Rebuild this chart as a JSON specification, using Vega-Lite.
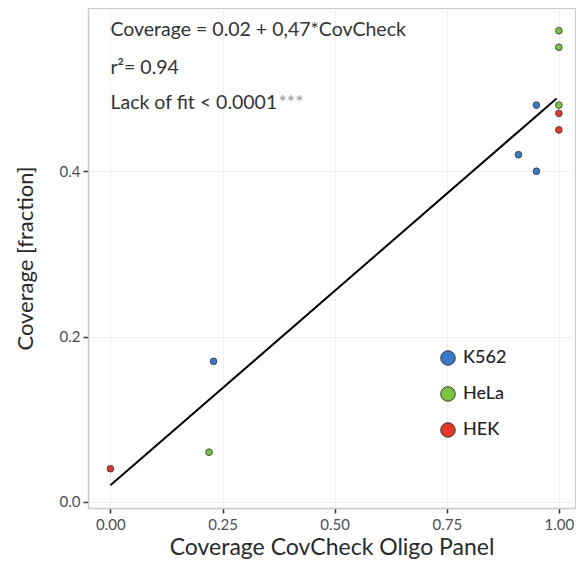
{
  "$schema": "https://vega.github.io/schema/vega-lite/v6.json",
  "width": 487,
  "height": 500,
  "autosize": {"type": "none"},
  "padding": {"left": 88, "top": 8, "right": 1, "bottom": 61},
  "background": "white",
  "config": {
    "font": "Lato",
    "view": {"stroke": "#c8c8c8", "strokeWidth": 1}
  },
  "datasets": {
    "points": [
      {"cov": 0.23, "frac": 0.17, "cell": "K562"},
      {"cov": 0.91, "frac": 0.42, "cell": "K562"},
      {"cov": 0.95, "frac": 0.40, "cell": "K562"},
      {"cov": 0.95, "frac": 0.48, "cell": "K562"},
      {"cov": 0.22, "frac": 0.06, "cell": "HeLa"},
      {"cov": 1.0, "frac": 0.57, "cell": "HeLa"},
      {"cov": 1.0, "frac": 0.55, "cell": "HeLa"},
      {"cov": 1.0, "frac": 0.48, "cell": "HeLa"},
      {"cov": 0.0, "frac": 0.04, "cell": "HEK"},
      {"cov": 1.0, "frac": 0.47, "cell": "HEK"},
      {"cov": 1.0, "frac": 0.45, "cell": "HEK"}
    ],
    "fit": [
      {"cov": 0.0, "frac": 0.02},
      {"cov": 0.995, "frac": 0.488}
    ],
    "notes": [
      {"cov": 0.0, "frac": 0.571, "label": "Coverage = 0.02 + 0,47*CovCheck", "c": "#333333"},
      {"cov": 0.0, "frac": 0.525, "label": "r²= 0.94", "c": "#333333"},
      {"cov": 0.0, "frac": 0.482, "label": "Lack of fit < 0.0001", "c": "#333333"},
      {"cov": 0.375, "frac": 0.482, "label": "***", "c": "#9a9a9a"}
    ]
  },
  "layer": [
    {
      "data": {"name": "fit"},
      "mark": {"type": "line", "color": "black", "strokeWidth": 2},
      "encoding": {
        "x": {
          "field": "cov", "type": "quantitative",
          "scale": {"domain": [-0.05, 1.036], "nice": false, "zero": false},
          "axis": {
            "title": "Coverage CovCheck Oligo Panel",
            "values": [0, 0.25, 0.5, 0.75, 1.0],
            "format": ".2f",
            "labelFontSize": 15, "labelColor": "#4d4d4d", "labelPadding": 4,
            "titleFontSize": 23, "titleColor": "#2a2a2a", "titleFontWeight": "normal", "titlePadding": 4,
            "tickColor": "#333333", "tickSize": 5, "tickWidth": 1.5,
            "domainColor": "#c8c8c8", "domainWidth": 1.5,
            "gridColor": "#f0f0f0", "gridWidth": 1.2
          }
        },
        "y": {
          "field": "frac", "type": "quantitative",
          "scale": {"domain": [-0.0075, 0.5975], "nice": false, "zero": false},
          "axis": {
            "title": "Coverage [fraction]",
            "values": [0, 0.2, 0.4],
            "format": ".1f",
            "labelFontSize": 15, "labelColor": "#4d4d4d", "labelPadding": 3,
            "titleFontSize": 22, "titleColor": "#2a2a2a", "titleFontWeight": "normal", "titlePadding": 22,
            "tickColor": "#333333", "tickSize": 5, "tickWidth": 1.5,
            "domainColor": "#c8c8c8", "domainWidth": 1.5,
            "gridColor": "#f0f0f0", "gridWidth": 1.2
          }
        }
      }
    },
    {
      "data": {"name": "points"},
      "mark": {"type": "point", "filled": true, "stroke": "#333333", "strokeWidth": 0.8, "opacity": 1},
      "encoding": {
        "x": {"field": "cov", "type": "quantitative"},
        "y": {"field": "frac", "type": "quantitative"},
        "size": {"value": 45},
        "color": {
          "field": "cell", "type": "nominal",
          "scale": {"domain": ["K562", "HeLa", "HEK"], "range": ["#3a78c9", "#7dc242", "#e2372a"]},
          "legend": {
            "title": null,
            "orient": "none",
            "legendX": 351,
            "legendY": 341,
            "symbolSize": 210,
            "symbolStrokeColor": "#333333",
            "symbolStrokeWidth": 1,
            "symbolType": "circle",
            "labelFontSize": 18,
            "labelFontWeight": 500,
            "labelColor": "#222222",
            "labelOffset": 6,
            "rowPadding": 16
          }
        }
      }
    },
    {
      "data": {"name": "notes"},
      "mark": {"type": "text", "align": "left", "baseline": "middle", "fontSize": 19.5},
      "encoding": {
        "x": {"field": "cov", "type": "quantitative"},
        "y": {"field": "frac", "type": "quantitative"},
        "text": {"field": "label"},
        "color": {"field": "c", "type": "nominal", "scale": null}
      }
    }
  ]
}
